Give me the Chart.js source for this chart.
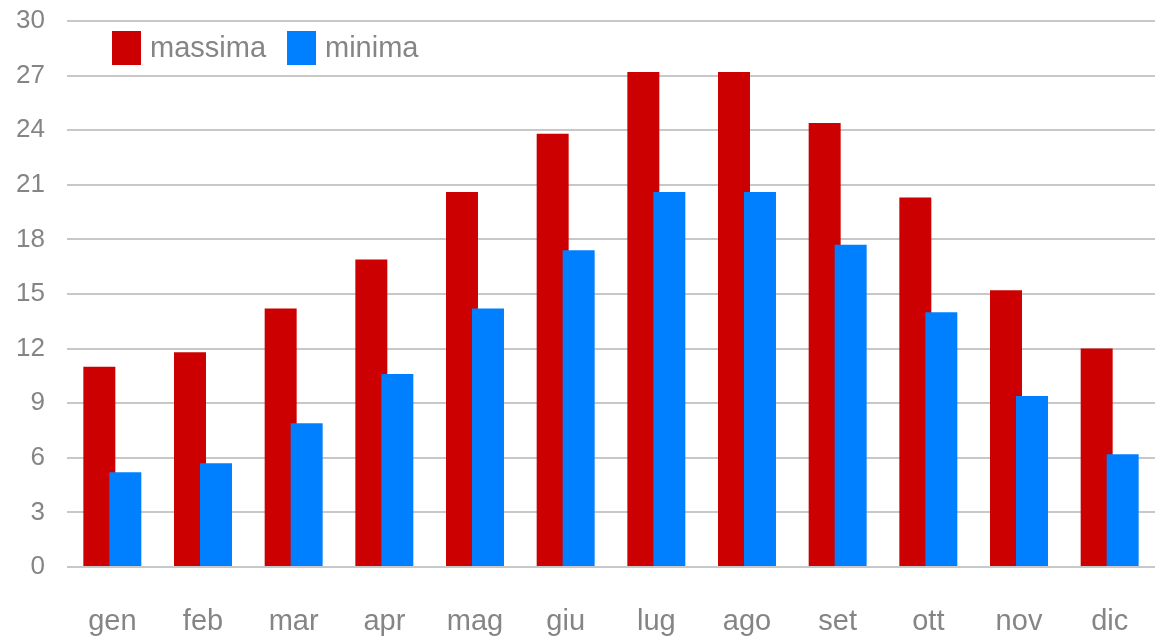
<!DOCTYPE html>
<html>
<head>
<meta charset="utf-8">
<script src="https://cdn.jsdelivr.net/npm/chart.js@4.4.1/dist/chart.umd.min.js"></script>
<style>
  html, body { margin: 0; padding: 0; background: #fff; }
  #wrap { width: 1163px; height: 638px; }
</style>
</head>
<body>
<div id="wrap"><canvas id="meteo"></canvas></div>
<script>
// mesi e temperature medie
var mesi = ["gen", "feb", "mar", "apr", "mag", "giu", "lug", "ago", "set", "ott", "nov", "dic"];
var massima = [11.0, 11.8, 14.2, 16.9, 20.6, 23.8, 27.2, 27.2, 24.4, 20.3, 15.2, 12.0];
var minima = [5.2, 5.7, 7.9, 10.6, 14.2, 17.4, 20.6, 20.6, 17.7, 14.0, 9.4, 6.2];
var tickY = [0, 3, 6, 9, 12, 15, 18, 21, 24, 27, 30];

var grigio = "#858585";
var font = "'Liberation Sans', Arial, sans-serif";

// disegna le serie nell'ordine (il blu sopra il rosso)
var ordine = {
  id: "ordine",
  beforeDatasetsDraw: function (chart) {
    var ctx = chart.ctx, a = chart.chartArea;
    ctx.save();
    ctx.beginPath();
    ctx.rect(a.left, a.top - 2, a.right - a.left, a.bottom - a.top + 4);
    ctx.clip();
    chart.data.datasets.forEach(function (ds, i) {
      chart.getDatasetMeta(i).controller.draw();
    });
    ctx.restore();
    return false;
  }
};

// legenda dentro l'area del grafico
var legenda = {
  id: "legenda",
  afterDraw: function (chart) {
    var ctx = chart.ctx;
    var x = 112, y = 31;
    ctx.save();
    ctx.font = "29px " + font;
    ctx.textBaseline = "middle";
    chart.data.datasets.forEach(function (ds) {
      ctx.fillStyle = ds.backgroundColor;
      ctx.fillRect(x, y, 29, 34);
      ctx.fillStyle = grigio;
      ctx.fillText(ds.label, x + 38, y + 18);
      x += 38 + ctx.measureText(ds.label).width + 21;
    });
    ctx.restore();
  }
};

var ctx = document.getElementById("meteo").getContext("2d");
var myChart = new Chart(ctx, {
  type: "bar",
  data: {
    labels: mesi,
    datasets: [{
      label: "massima",
      backgroundColor: "#cc0000",
      data: massima
    }, {
      label: "minima",
      backgroundColor: "#0080ff",
      data: minima
    }]
  },
  options: {
    responsive: true,
    maintainAspectRatio: false,
    animation: false,
    categoryPercentage: 0.5735,
    barPercentage: 1.23,
    layout: { padding: { top: 21, right: 8, left: 0, bottom: 0 } },
    plugins: {
      legend: { display: false },
      tooltip: { enabled: false }
    },
    scales: {
      x: {
        grid: { display: false },
        border: { display: false },
        ticks: { color: grigio, font: { size: 29, family: font }, padding: 30, maxRotation: 0 },
        afterFit: function (scale) {
          scale.height = 71;
          scale.paddingLeft = 0;
          scale.paddingRight = 0;
        }
      },
      y: {
        min: 0,
        max: 30,
        afterBuildTicks: function (scale) {
          scale.ticks = tickY.map(function (v) { return { value: v }; });
        },
        grid: { color: "#c8c8c8", lineWidth: 2, drawTicks: false },
        border: { display: false },
        ticks: { color: grigio, font: { size: 26, family: font }, padding: 22 },
        afterFit: function (scale) {
          scale.width = 67;
          scale.paddingTop = 0;
          scale.paddingBottom = 0;
        }
      }
    }
  },
  plugins: [ordine, legenda]
});
</script>
</body>
</html>
